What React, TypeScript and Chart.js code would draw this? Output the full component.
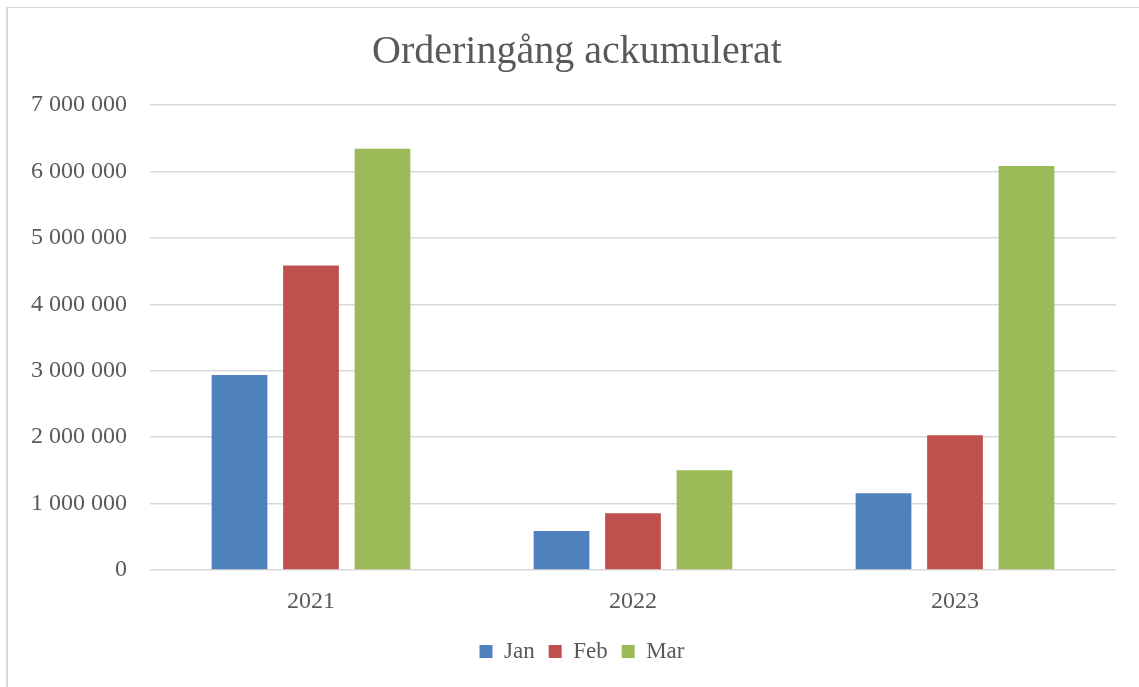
import React, { useEffect, useRef } from "react";
import { Chart, registerables } from "chart.js";

Chart.register(...registerables);

const categories = ["2021", "2022", "2023"];
const seriesNames = ["Jan", "Feb", "Mar"];
const janValues = [2934000, 587000, 1154000];
const febValues = [4585000, 853000, 2030000];
const marValues = [6340000, 1500000, 6080000];
const seriesColors = ["#4F81BD", "#C0504D", "#9BBB59"];
const titleText = "Orderingång ackumulerat";

const FONT = "'Liberation Serif', 'Times New Roman', serif";
const TEXT = "#595959";

function fmt(v: number) {
  return Math.round(v).toString().replace(/\B(?=(\d{3})+(?!\d))/g, " ");
}

const shiftBlocks = {
  id: "shiftBlocks",
  afterLayout(chart: any) {
    if (chart.titleBlock) {
      chart.titleBlock.left += 15;
      chart.titleBlock.right += 15;
    }
    if (chart.legend) {
      chart.legend.left += 20;
      chart.legend.right += 20;
    }
  },
};

export default function App() {
  const ref = useRef<HTMLCanvasElement | null>(null);

  useEffect(() => {
    if (!ref.current) return;
    const values = [janValues, febValues, marValues];
    const chart = new Chart(ref.current, {
      type: "bar",
      data: {
        labels: categories,
        datasets: seriesNames.map((name, i) => ({
          label: name,
          data: values[i],
          backgroundColor: seriesColors[i],
          borderWidth: 0,
          categoryPercentage: 0.666,
          barPercentage: 0.78,
        })),
      },
      plugins: [shiftBlocks],
      options: {
        responsive: false,
        animation: false,
        layout: { padding: { top: 0, left: 0, right: 23, bottom: 14 } },
        plugins: {
          title: {
            display: true,
            text: titleText,
            color: TEXT,
            font: { family: FONT, size: 40, weight: "normal" },
            padding: { top: 20, bottom: 29 },
          },
          legend: {
            position: "bottom",
            labels: {
              color: TEXT,
              font: { family: FONT, size: 23 },
              boxWidth: 13,
              boxHeight: 13,
              padding: 14,
            },
          },
          tooltip: { enabled: false },
        },
        scales: {
          x: {
            grid: { display: false, drawTicks: false },
            border: { display: false },
            ticks: {
              color: TEXT,
              font: { family: FONT, size: 24 },
              padding: 17,
            },
            afterFit: (s: any) => {
              s.height = 56;
            },
          },
          y: {
            min: 0,
            max: 7000000,
            ticks: {
              stepSize: 1000000,
              color: TEXT,
              font: { family: FONT, size: 24 },
              padding: 23,
              callback: (v: any) => fmt(Number(v)),
            },
            grid: { color: "#d9d9d9", lineWidth: 1.5, drawTicks: false },
            border: { display: false },
            afterFit: (s: any) => {
              s.width = 142;
            },
          },
        },
      },
    });
    return () => chart.destroy();
  }, []);

  return (
    <div
      style={{
        position: "absolute",
        left: 6,
        top: 7,
        width: 1133,
        height: 680,
        borderTop: "1px solid #d9d9d9",
        borderLeft: "2px solid #d9d9d9",
        background: "#fff",
        boxSizing: "border-box",
      }}
    >
      <canvas ref={ref} width={1131} height={679} style={{ display: "block" }} />
    </div>
  );
}
